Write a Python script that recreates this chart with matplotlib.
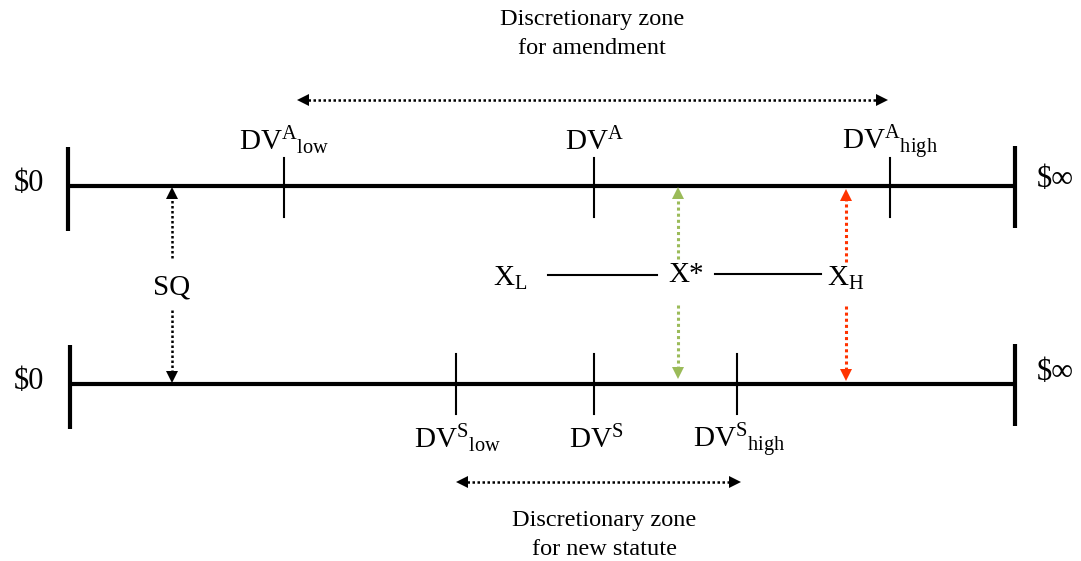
import matplotlib
matplotlib.use('Agg')
import matplotlib.pyplot as plt

plt.rcParams['font.family'] = ['Liberation Serif', 'DejaVu Serif']
plt.rcParams['mathtext.fontset'] = 'custom'
plt.rcParams['mathtext.rm'] = 'Liberation Serif'
plt.rcParams['mathtext.it'] = 'Liberation Serif:italic'

# Две числовые оси (в пикселях картинки)
line_left = [68, 70]
line_right = [1015, 1015]
line_y = [186, 384]
inf_y = [179, 372]

# Отметки на верхней оси (поправка) и на нижней (новый закон)
top_ticks = [284, 594, 890]
top_labels = [r'$\mathrm{DV}^{\mathrm{A}}{}_{\mathrm{low}}$', r'$\mathrm{DV}^{\mathrm{A}}$',
              r'$\mathrm{DV}^{\mathrm{A}}{}_{\mathrm{high}}$']
bottom_ticks = [456, 594, 737]
bottom_labels = [r'$\mathrm{DV}^{\mathrm{S}}{}_{\mathrm{low}}$', r'$\mathrm{DV}^{\mathrm{S}}$',
                 r'$\mathrm{DV}^{\mathrm{S}}{}_{\mathrm{high}}$']

# Зоны усмотрения
zone_top = (298, 887)
zone_bottom = (457, 740)

# Точки SQ, X*, X_H
sq_x = 172
xstar_x = 678
xh_x = 846

fig = plt.figure(figsize=(10.81, 5.61), dpi=100)
ax = fig.add_axes([0, 0, 1, 1])
ax.set_xlim(0, 1081)
ax.set_ylim(561, 0)
ax.axis('off')

# оси и концевые засечки
for xl, xr, y, yi in zip(line_left, line_right, line_y, inf_y):
    ax.plot([xl, xr], [y, y], color='black', lw=3, solid_capstyle='butt')
    ax.plot([xl, xl], [y - 39, y + 45], color='black', lw=3, solid_capstyle='butt')
    ax.plot([xr, xr], [y - 40, y + 42], color='black', lw=3, solid_capstyle='butt')
    ax.text(29, y - 3, '$0', fontsize=22, ha='center', va='center')
    ax.text(1055, yi, '$\u221e', fontsize=22, ha='center', va='center')

# отметки
for x, lab in zip(top_ticks, top_labels):
    ax.plot([x, x], [158, 217], color='black', lw=1.5)
    ax.text(x, 150, lab, fontsize=21, ha='center', va='baseline')
for x, lab in zip(bottom_ticks, bottom_labels):
    ax.plot([x, x], [354, 414], color='black', lw=1.5)
    ax.text(x + 2, 448, lab, fontsize=21, ha='center', va='baseline')


def dotted_arrow(x0, y0, x1, y1, color, lw=1.8, ms=8, both=False):
    ax.plot([x0, x1], [y0, y1], color=color, lw=lw, ls=(0, (1, 1)))
    if x0 == x1:
        m1 = '^' if y1 < y0 else 'v'
        m0 = 'v' if y1 < y0 else '^'
    else:
        m1 = '>' if x1 > x0 else '<'
        m0 = '<' if x1 > x0 else '>'
    ax.plot([x1], [y1], marker=m1, color=color, ms=ms, mew=0)
    if both:
        ax.plot([x0], [y0], marker=m0, color=color, ms=ms, mew=0)


# зоны усмотрения
dotted_arrow(zone_top[0] + 5, 100, zone_top[1] - 5, 100, 'black', both=True)
dotted_arrow(zone_bottom[0] + 5, 482, zone_bottom[1] - 5, 482, 'black', both=True)
ax.text(592, 34, 'Discretionary zone\nfor amendment', fontsize=17.5, ha='center', va='center',
        linespacing=1.45)
ax.text(604, 535, 'Discretionary zone\nfor new statute', fontsize=17.5, ha='center', va='center',
        linespacing=1.45)

# SQ
ax.text(sq_x, 287, 'SQ', fontsize=21, ha='center', va='center')
dotted_arrow(sq_x, 258, sq_x, 193, 'black')
dotted_arrow(sq_x, 310, sq_x, 377, 'black')

# X_L — X* — X_H
ax.text(510, 278, r'$\mathrm{X}_{\mathrm{L}}$', fontsize=21, ha='center', va='center')
ax.plot([548, 657], [275, 275], color='black', lw=1.5)
ax.text(686, 275, 'X*', fontsize=21, ha='center', va='center')
ax.plot([715, 821], [274, 274], color='black', lw=1.5)
ax.text(846, 278, r'$\mathrm{X}_{\mathrm{H}}$', fontsize=21, ha='center', va='center')

green = '#9BBB59'
red = '#FF3300'
dotted_arrow(xstar_x, 259, xstar_x, 193, green, lw=2.2)
dotted_arrow(xstar_x, 305, xstar_x, 373, green, lw=2.2)
dotted_arrow(xh_x, 262, xh_x, 195, red, lw=2.2)
dotted_arrow(xh_x, 306, xh_x, 375, red, lw=2.2)

fig.savefig('out.png', dpi=100)
